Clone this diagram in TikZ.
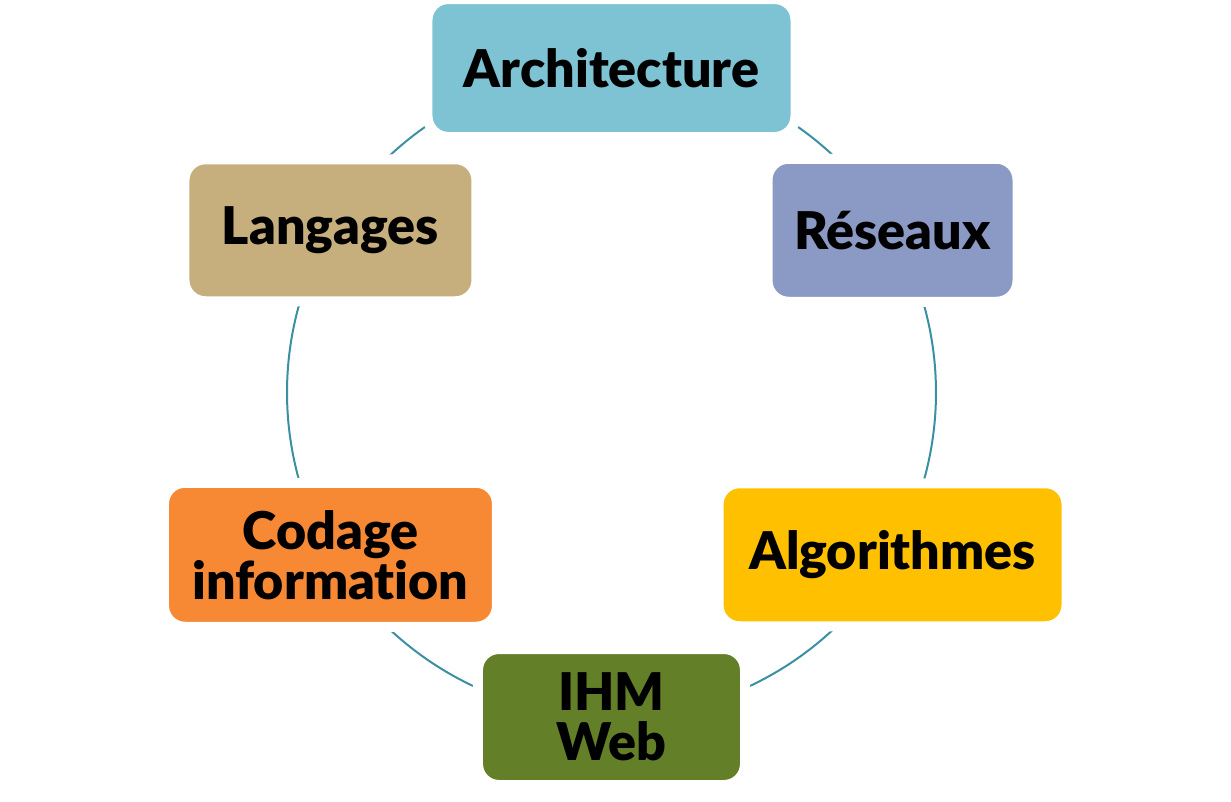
\documentclass[tikz,border=0pt]{standalone}
\usepackage{fontspec}
\setmainfont{Lato}[BoldFont={Lato Black}, Ligatures=NoCommon]
\usetikzlibrary{backgrounds}
\definecolor{archblue}{RGB}{126,195,211}
\definecolor{resblue}{RGB}{139,153,197}
\definecolor{algoyellow}{RGB}{255,192,0}
\definecolor{ihmgreen}{RGB}{99,127,39}
\definecolor{codorange}{RGB}{247,136,52}
\definecolor{langtan}{RGB}{198,175,124}
\definecolor{ringteal}{RGB}{58,143,163}
\newcommand{\rr}{324.5}

\begin{document}
\begin{tikzpicture}[x=0.75pt,y=0.75pt,
    box/.style={draw=white, line width=7.5pt, rounded corners=15.75pt,
      align=center, inner sep=0pt,
      font=\fontsize{39pt}{37.5pt}\selectfont\bfseries},
    ring/.style={draw=ringteal, line width=1.5pt}]
  \useasboundingbox (-611.5,-408.5) rectangle (619.5,392.5);
  % the six topics round the ring
  \node[box, fill=archblue, minimum width=276pt, minimum height=103.5pt] (arch) at (90:\rr) {Architecture};
  \node[box, fill=resblue, minimum width=187.5pt, minimum height=107.25pt] (res) at (30:\rr) {Réseaux};
  \node[box, fill=algoyellow, minimum width=261pt, minimum height=107.25pt] (algo) at (-30:\rr) {Algorithmes};
  \node[box, fill=ihmgreen, minimum width=200.25pt, minimum height=102pt] (ihm) at (-90:\rr) {IHM\\Web};
  \node[box, fill=codorange, minimum width=249.75pt, minimum height=108pt] (cod) at (-150:\rr) {Codage\\information};
  \node[box, fill=langtan, minimum width=219pt, minimum height=106.5pt] (lang) at (150:\rr) {Langages};
  % ring behind the boxes
  \begin{scope}[on background layer]
    \draw[ring] (arch.center) arc[start angle=90, end angle=30, radius=\rr];
    \draw[ring] (res.center) arc[start angle=30, end angle=-30, radius=\rr];
    \draw[ring] (algo.center) arc[start angle=-30, end angle=-90, radius=\rr];
    \draw[ring] (ihm.center) arc[start angle=-90, end angle=-150, radius=\rr];
    \draw[ring] (cod.center) arc[start angle=-150, end angle=-210, radius=\rr];
    \draw[ring] (lang.center) arc[start angle=150, end angle=90, radius=\rr];
  \end{scope}
\end{tikzpicture}
\end{document}
